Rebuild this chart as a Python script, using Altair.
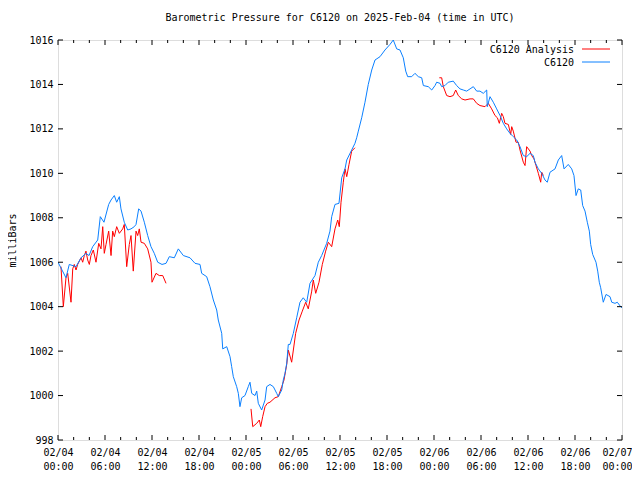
import altair as alt
import pandas as pd

# ---------------- data (hours since 2025-02-04 00:00 UTC, pressure in mb) -------------
obs_hours = [0.0, 1.02, 1.44, 2.30, 2.94, 3.57, 3.96, 4.43, 5.07, 5.40, 5.87, 6.47, 6.77, 7.19,
             7.49, 7.83, 8.04, 8.46, 8.90, 9.32, 9.74, 9.96, 10.30, 10.60, 11.02, 11.45, 11.87,
             12.29, 12.73, 13.28, 13.79, 14.21, 14.85, 15.36, 16.00, 16.85, 17.49, 18.13, 18.34,
             18.98, 19.40, 19.83, 20.26, 20.46, 20.90, 21.03, 21.54, 21.96, 22.17, 22.38, 22.81,
             23.02, 23.23, 23.45, 23.87, 24.29, 24.51, 24.73, 25.15, 25.37, 25.57, 26.00, 26.43,
             26.64, 27.06, 27.49, 27.92, 28.12, 28.56, 28.76, 28.98, 29.20, 29.40, 29.62, 30.04,
             30.47, 30.89, 31.31, 31.75, 32.17, 32.81, 33.23, 33.66, 34.30, 34.72, 34.94, 35.36,
             35.87, 36.22, 36.64, 36.86, 37.49, 37.91, 38.13, 38.34, 38.77, 39.19, 39.61, 40.05,
             40.47, 41.11, 41.74, 42.38, 42.80, 43.24, 43.66, 44.08, 44.39, 44.64, 45.15, 45.57,
             46.00, 46.43, 46.64, 47.27, 47.71, 48.13, 48.34, 48.77, 48.98, 49.40, 49.82, 50.46,
             50.89, 51.32, 51.74, 52.17, 52.60, 53.02, 53.45, 53.87, 54.29, 54.73, 54.80, 55.15,
             55.57, 56.00, 56.43, 56.85, 57.28, 57.70, 58.12, 58.56, 58.98, 59.40, 59.83, 60.26,
             60.68, 60.89, 61.32, 61.75, 62.17, 62.46, 62.81, 63.45, 63.87, 64.30, 64.60, 65.14,
             65.58, 65.87, 66.13, 66.42, 66.73, 66.98, 67.28, 67.57, 67.83, 68.00, 68.26, 68.68,
             68.90, 69.10, 69.28, 69.61, 69.96, 70.47, 70.69, 71.11, 71.40, 71.83, 72.0]
obs_mb = [1006.0, 1005.3, 1005.9, 1005.8, 1006.2, 1006.4, 1006.3, 1006.7, 1007.0, 1008.05, 1007.8,
          1008.6, 1008.8, 1009.0, 1008.7, 1008.95, 1008.4, 1007.8, 1007.45, 1007.5, 1007.6, 1007.7,
          1008.4, 1008.3, 1007.8, 1007.2, 1006.7, 1006.4, 1006.0, 1005.9, 1005.95, 1006.25, 1006.2,
          1006.6, 1006.3, 1006.2, 1005.95, 1005.9, 1005.5, 1005.35, 1004.9, 1004.3, 1003.85,
          1003.4, 1002.8, 1002.1, 1002.2, 1001.75, 1001.3, 1000.85, 1000.4, 1000.1, 999.5, 999.9,
          1000.0, 1000.4, 1000.6, 1000.1, 1000.0, 1000.2, 999.65, 999.35, 999.8, 1000.4, 1000.5,
          1000.4, 1000.1, 999.95, 1000.25, 1000.7, 1001.0, 1001.45, 1002.3, 1002.3, 1002.8,
          1003.5, 1004.2, 1004.4, 1004.2, 1005.05, 1005.4, 1006.0, 1006.3, 1006.85, 1007.4,
          1008.05, 1008.6, 1008.65, 1009.8, 1010.2, 1010.6, 1011.05, 1011.35, 1011.6, 1011.9,
          1012.5, 1013.2, 1014.0, 1014.65, 1015.1, 1015.25, 1015.55, 1015.8, 1016.0, 1015.6,
          1015.55, 1015.2, 1014.6, 1014.35, 1014.35, 1014.5, 1014.35, 1014.3, 1013.95, 1013.9,
          1013.75, 1013.95, 1014.1, 1014.05, 1013.9, 1013.95, 1014.1, 1014.15, 1013.95, 1013.8,
          1013.75, 1013.7, 1013.8, 1013.9, 1013.7, 1013.7, 1013.6, 1013.75, 1013.0, 1013.45,
          1013.2, 1012.9, 1012.6, 1012.25, 1012.0, 1011.8, 1011.65, 1011.5, 1011.2, 1010.8,
          1010.75, 1010.9, 1010.8, 1010.5, 1010.2, 1010.0, 1009.7, 1009.6, 1010.05, 1010.2,
          1010.6, 1010.8, 1010.2, 1010.4, 1010.2, 1009.9, 1009.0, 1009.3, 1009.25, 1008.55,
          1008.3, 1007.8, 1007.4, 1006.8, 1006.35, 1006.0, 1005.6, 1005.1, 1004.85, 1004.2,
          1004.55, 1004.45, 1004.2, 1004.15, 1004.2, 1004.0, 1003.95]

ana1_hours = [0.38, 0.68, 1.02, 1.24, 1.66, 1.88, 2.08, 2.30, 2.51, 2.94, 3.15, 3.36, 3.57, 3.79,
              4.00, 4.21, 4.51, 4.85, 5.20, 5.49, 5.71, 5.91, 6.13, 6.47, 6.77, 6.98, 7.19, 7.49,
              7.83, 8.26, 8.46, 8.77, 9.10, 9.32, 9.61, 9.96, 10.17, 10.38, 10.60, 11.02, 11.45,
              11.87, 12.00, 12.51, 12.93, 13.37, 13.79]
ana1_mb = [1005.8, 1004.0, 1005.3, 1005.5, 1004.2, 1005.7, 1005.9, 1005.65, 1005.9, 1006.2, 1006.0,
           1006.3, 1006.5, 1006.1, 1005.9, 1006.3, 1006.55, 1006.0, 1006.85, 1006.6, 1007.6,
           1006.4, 1006.8, 1007.4, 1006.3, 1007.4, 1007.15, 1007.6, 1007.3, 1007.5, 1007.7,
           1005.8, 1006.8, 1007.2, 1005.6, 1007.4, 1007.2, 1007.5, 1006.9, 1006.85, 1006.6,
           1006.0, 1005.1, 1005.5, 1005.4, 1005.4, 1005.05]

ana2_hours = [24.64, 24.86, 25.37, 25.70, 25.88, 26.13, 26.43, 26.72, 27.06, 27.70, 28.12, 28.56,
              28.85, 29.20, 29.40, 29.83, 30.34, 30.77, 31.19, 31.62, 31.95, 32.39, 32.59, 32.90,
              33.32, 33.74, 34.17, 34.51, 34.94, 35.36, 35.71, 35.91, 36.13, 36.42, 36.64, 36.86,
              37.15, 37.49, 37.91]
ana2_mb = [999.4, 998.6, 998.75, 998.9, 998.6, 999.05, 999.5, 999.65, 999.7, 999.9, 999.95, 1000.4,
           1000.7, 1001.4, 1002.05, 1001.5, 1002.8, 1003.4, 1003.8, 1004.2, 1003.9, 1004.7,
           1005.2, 1004.6, 1005.1, 1005.9, 1006.5, 1006.9, 1006.7, 1007.5, 1007.9, 1007.6,
           1008.7, 1009.6, 1010.2, 1009.85, 1010.4, 1011.0, 1011.15]

ana3_hours = [48.68, 48.98, 49.19, 49.62, 50.04, 50.46, 50.77, 51.10, 51.54, 51.96, 52.60, 53.02,
              53.45, 53.87, 54.51, 54.93, 55.36, 55.79, 56.09, 56.34, 56.64, 56.85, 57.06, 57.49,
              57.79, 57.92, 58.12, 58.47, 58.76, 58.98, 59.40, 59.62, 59.83, 60.26, 60.47, 60.77,
              61.02, 61.32, 61.62, 61.75, 61.96]
ana3_mb = [1014.3, 1014.3, 1013.9, 1013.5, 1013.45, 1013.5, 1013.75, 1013.5, 1013.35, 1013.3,
           1013.35, 1013.35, 1013.15, 1013.05, 1013.0, 1013.15, 1012.9, 1012.6, 1012.5, 1012.25,
           1012.7, 1012.55, 1012.25, 1012.2, 1011.75, 1012.1, 1011.9, 1011.4, 1011.4, 1011.05,
           1010.5, 1010.35, 1011.2, 1011.0, 1010.8, 1010.65, 1010.35, 1010.0, 1009.6, 1010.05,
           1009.9]

series_names = ["C6120 Analysis", "C6120"]
series_colors = ["#ff0000", "#0a80ff"]

x_major = list(range(0, 73, 6))
x_minor = [h for h in range(0, 73, 2) if h % 6 != 0]
y_ticks = list(range(998, 1017, 2))

TITLE = "Barometric Pressure for C6120 on 2025-Feb-04 (time in UTC)"
FONT = "DejaVu Sans Mono"

# ---------------- frames ----------------
obs_df = pd.DataFrame({"hour": obs_hours, "mb": obs_mb})
ana_rows = []
for seg, (hs, vs) in enumerate([(ana1_hours, ana1_mb), (ana2_hours, ana2_mb), (ana3_hours, ana3_mb)]):
    for h, v in zip(hs, vs):
        ana_rows.append({"hour": h, "mb": v, "seg": seg})
ana_df = pd.DataFrame(ana_rows)

W, H = 564, 400
xs = alt.Scale(domain=[0, 72], nice=False, zero=False)
ys = alt.Scale(domain=[998, 1016], nice=False, zero=False)

x_label_expr = ("['02/0' + (4 + floor(datum.value / 24)), "
                "((datum.value % 24) < 10 ? '0' : '') + (datum.value % 24) + ':00']")

x_axis = alt.Axis(values=x_major, labelExpr=x_label_expr, ticks=False, domain=False, grid=False,
                  title=None, labelFont=FONT, labelFontSize=10, labelColor="black",
                  labelPadding=7, labelLineHeight=14, labelBaseline="top", labelFlush=False,
                  labelOverlap=False,
                  labelOffset={"condition": {"test": "datum.value == 72", "value": -5}, "value": 0})
y_axis = alt.Axis(values=y_ticks, format="d", ticks=False, domain=False, grid=False,
                  title="milliBars", labelFont=FONT, labelFontSize=10, labelColor="black",
                  labelPadding=5, titleFont=FONT, titleFontSize=10, titleFontWeight="normal",
                  titleColor="black", titleAngle=-90, titleAlign="center",
                  titleBaseline="middle", titleX=-46, titleY=H / 2)

red = alt.Chart(ana_df).mark_line(strokeWidth=1, color=series_colors[0], clip=True).encode(
    x=alt.X("hour:Q", scale=xs, axis=x_axis),
    y=alt.Y("mb:Q", scale=ys, axis=y_axis),
    detail="seg:N",
)
blue = alt.Chart(obs_df).mark_line(strokeWidth=1, color=series_colors[1], clip=True).encode(
    x=alt.X("hour:Q", scale=xs),
    y=alt.Y("mb:Q", scale=ys),
)

xmaj_df = pd.DataFrame({"hour": x_major})
xmin_df = pd.DataFrame({"hour": x_minor})
ytk_df = pd.DataFrame({"mb": y_ticks})

def xt(df, y0, y1):
    return alt.Chart(df).mark_rule(color="black", strokeWidth=1).encode(
        x=alt.X("hour:Q", scale=xs), y=alt.value(y0), y2=alt.value(y1))

def yt(x0, x1):
    return alt.Chart(ytk_df).mark_rule(color="black", strokeWidth=1).encode(
        y=alt.Y("mb:Q", scale=ys), x=alt.value(x0), x2=alt.value(x1))

ticks = [xt(xmaj_df, H, H - 5), xt(xmaj_df, 0, 5), xt(xmin_df, H, H - 3), xt(xmin_df, 0, 3),
         yt(0, 5), yt(W, W - 5)]

one = pd.DataFrame({"k": [0]})
legend = []
for i, (name, col) in enumerate(zip(series_names, series_colors)):
    ty = 10 + 13 * i
    legend.append(alt.Chart(one).mark_text(text=name, font=FONT, fontSize=10, align="right",
                                           baseline="middle", color="black")
                  .encode(x=alt.value(516), y=alt.value(ty)))
    legend.append(alt.Chart(one).mark_rule(color=col, strokeWidth=1)
                  .encode(x=alt.value(524), x2=alt.value(552), y=alt.value(ty - 1)))

chart = alt.layer(red, blue, *ticks, *legend).properties(
    width=W, height=H,
    title=alt.TitleParams(TITLE, font=FONT, fontSize=10, fontWeight="normal", color="black",
                          anchor="middle", frame="group", offset=12),
    autosize=alt.AutoSizeParams(type="none"),
    padding={"left": 50, "top": 32, "right": 10, "bottom": 32},
).configure_view(stroke="black", strokeWidth=1).configure(background="white")

chart.save("out.html", embed_options={"renderer": "svg", "actions": False})
